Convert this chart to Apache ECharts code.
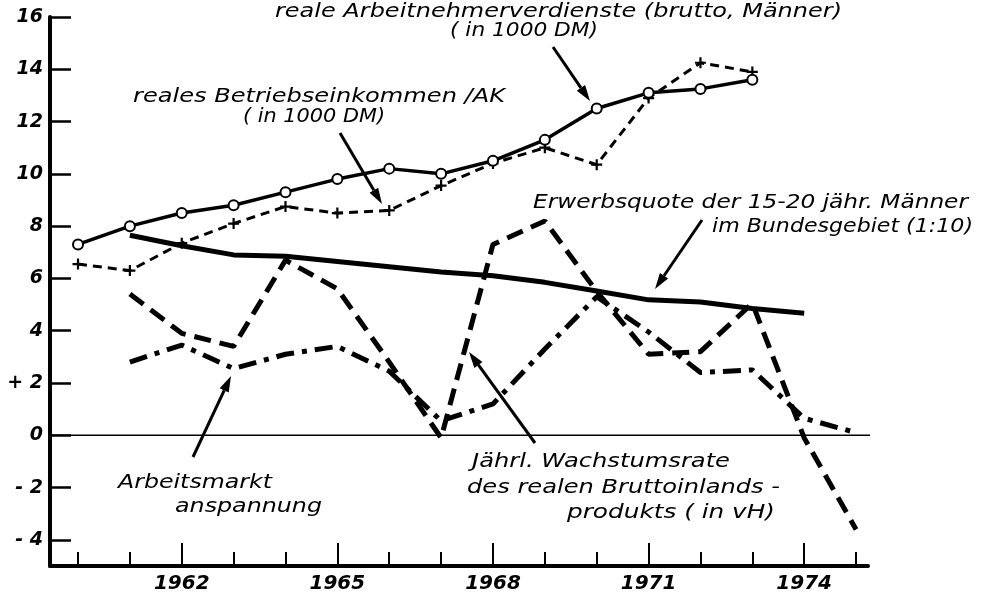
<!DOCTYPE html>
<html>
<head>
<meta charset="utf-8">
<script src="https://cdn.jsdelivr.net/npm/echarts@6/dist/echarts.min.js"></script>
<style>
html,body{margin:0;padding:0;background:#fff;}
#chart{width:987px;height:597px;}
</style>
</head>
<body>
<div id="chart"></div>
<script>
// ---- data ----
const yearsA = [1960,1961,1962,1963,1964,1965,1966,1967,1968,1969,1970,1971,1972,1973];
const verdienste = [7.3, 8.0, 8.5, 8.8, 9.3, 9.8, 10.2, 10.0, 10.5, 11.3, 12.5, 13.1, 13.25, 13.6];
const betriebseinkommen = [6.55, 6.3, 7.35, 8.1, 8.75, 8.5, 8.6, 9.55, 10.4, 11.0, 10.35, 12.9, 14.25, 13.9];
const yearsB = [1961,1962,1963,1964,1965,1966,1967,1968,1969,1970,1971,1972,1973,1974];
const erwerbsquote = [7.65, 7.25, 6.9, 6.85, 6.65, 6.45, 6.25, 6.1, 5.85, 5.52, 5.18, 5.1, 4.85, 4.67];
const yearsC = [1961,1962,1963,1964,1965,1966,1967,1968,1969,1970,1971,1972,1973,1974,1975];
const wachstum = [5.4, 3.9, 3.4, 6.7, 5.6, 2.8, -0.1, 7.3, 8.2, 5.5, 3.1, 3.2, 5.05, -0.1, -3.6];
const arbeitsmarkt = [2.8, 3.45, 2.55, 3.1, 3.4, 2.45, 0.55, 1.2, 3.3, 5.3, 3.95, 2.4, 2.5, 0.65, 0.1];
const yTicks = [-4,-2,0,2,4,6,8,10,12,14,16];
const xMinorTicks = [1960,1961,1963,1964,1966,1967,1969,1970,1972,1973,1975];
const xMajorTicks = [1962,1965,1968,1971,1974];

const FONT = 'DejaVu Sans';
const zip = (xs, ys) => xs.map((x, i) => [x, ys[i]]);
const XMIN = 1959.46, XMAX = 1975.23;

const chart = echarts.init(document.getElementById('chart'), null, {renderer: 'canvas'});

const plusPath = 'path://M4,0H6V4H10V6H6V10H4V6H0V4H4Z';

const option = {
  animation: false,
  backgroundColor: '#fff',
  grid: {left: 50, right: 119, top: 17, bottom: 31, containLabel: false},
  xAxis: [
    {
      type: 'value', min: XMIN, max: XMAX, position: 'bottom',
      axisLine: {show: true, onZero: false, lineStyle: {color: '#000', width: 4}},
      axisTick: {show: true, inside: true, length: 14, lineStyle: {color: '#000', width: 2}, customValues: xMinorTicks},
      axisLabel: {show: false},
      splitLine: {show: false}
    },
    {
      type: 'value', min: XMIN, max: XMAX, position: 'bottom', offset: 0,
      axisLine: {show: false, onZero: false},
      axisTick: {show: true, inside: true, length: 23, lineStyle: {color: '#000', width: 2}, customValues: xMajorTicks},
      axisLabel: {show: true, customValues: xMajorTicks, margin: 8, color: '#000',
        fontFamily: FONT, fontStyle: 'italic', fontWeight: 'bold', fontSize: 20, formatter: v => String(v)},
      splitLine: {show: false}
    }
  ],
  yAxis: {
    type: 'value', min: -5, max: 16,
    axisLine: {show: true, onZero: false, lineStyle: {color: '#000', width: 4}},
    axisTick: {show: true, inside: true, length: 21, lineStyle: {color: '#000', width: 2.5}, customValues: yTicks},
    axisLabel: {show: true, customValues: yTicks, margin: 7, color: '#000',
      fontFamily: FONT, fontStyle: 'italic', fontWeight: 'bold', fontSize: 19,
      formatter: v => v === 2 ? '+ 2' : (v < 0 ? '- ' + Math.abs(v) : String(v))},
    splitLine: {show: false}
  },
  series: [
    {
      name: 'zero', type: 'line', xAxisIndex: 0, clip: false, silent: true,
      data: [[XMIN, 0], [1975.42, 0]], symbol: 'none',
      lineStyle: {color: '#000', width: 1.5}, z: 1
    },
    {
      name: 'reale Arbeitnehmerverdienste', type: 'line', xAxisIndex: 0,
      data: zip(yearsA, verdienste),
      symbol: 'circle', symbolSize: 10,
      itemStyle: {color: '#fff', borderColor: '#000', borderWidth: 2},
      lineStyle: {color: '#000', width: 3.5}, z: 5
    },
    {
      name: 'reales Betriebseinkommen/AK', type: 'line', xAxisIndex: 0,
      data: zip(yearsA, betriebseinkommen),
      symbol: plusPath, symbolSize: 11,
      itemStyle: {color: '#000'},
      lineStyle: {color: '#000', width: 3, type: [9, 6]}, z: 4
    },
    {
      name: 'Erwerbsquote', type: 'line', xAxisIndex: 0,
      data: zip(yearsB, erwerbsquote), symbol: 'none',
      lineStyle: {color: '#000', width: 5}, z: 3
    },
    {
      name: 'Wachstumsrate', type: 'line', xAxisIndex: 0,
      data: zip(yearsC, wachstum), symbol: 'none',
      lineStyle: {color: '#000', width: 5, type: [17, 9]}, z: 3
    },
    {
      name: 'Arbeitsmarktanspannung', type: 'line', xAxisIndex: 0,
      data: zip(yearsC, arbeitsmarkt), symbol: 'none',
      lineStyle: {color: '#000', width: 5, type: [18, 8, 5, 8]}, z: 3
    }
  ]
};
chart.setOption(option);

// ---- annotations ----
const measureCtx = document.createElement('canvas').getContext('2d');
const TFONT = 'italic 19px "' + FONT + '"';
measureCtx.font = TFONT;

function arrow(x1, y1, x2, y2) {
  const ang = Math.atan2(y2 - y1, x2 - x1);
  const L = 16, W = 5;
  const bx = x2 - L * Math.cos(ang), by = y2 - L * Math.sin(ang);
  const px = -Math.sin(ang) * W, py = Math.cos(ang) * W;
  return [
    {type: 'line', shape: {x1: x1, y1: y1, x2: bx, y2: by}, style: {stroke: '#000', lineWidth: 3}, z: 10},
    {type: 'polygon', shape: {points: [[x2, y2], [bx + px, by + py], [bx - px, by - py]]}, style: {fill: '#000'}, z: 10}
  ];
}
function txt(x1, x2, y, s) {
  const w = measureCtx.measureText(s).width;
  return {type: 'text', x: x1, y: y, z: 10, scaleX: (x2 - x1) / w, scaleY: 1,
    style: {text: s, fill: '#000', font: TFONT, textAlign: 'left', textVerticalAlign: 'middle'}};
}
const g = [];
g.push(txt(275, 842, 12, 'reale Arbeitnehmerverdienste (brutto, Männer)'));
g.push(txt(450, 598, 31, '( in 1000 DM)'));
g.push(...arrow(553, 47, 590, 101));
g.push(txt(133, 505, 97, 'reales Betriebseinkommen /AK'));
g.push(txt(243, 385, 117, '( in 1000 DM)'));
g.push(...arrow(340, 133, 382, 204));
g.push(txt(533, 968, 203, 'Erwerbsquote der 15-20 jähr. Männer'));
g.push(txt(712, 973, 227, 'im Bundesgebiet (1:10)'));
g.push(...arrow(702, 220, 655, 289));
g.push(txt(118, 272, 483, 'Arbeitsmarkt'));
g.push(txt(175, 322, 507, 'anspannung'));
g.push(...arrow(193, 457, 231, 376));
g.push(txt(472, 730, 462, 'Jährl. Wachstumsrate'));
g.push(txt(467, 780, 488, 'des realen Bruttoinlands -'));
g.push(txt(567, 775, 513, 'produkts ( in vH)'));
g.push(...arrow(535, 443, 469, 352));
chart.setOption({graphic: g});
</script>
</body>
</html>
